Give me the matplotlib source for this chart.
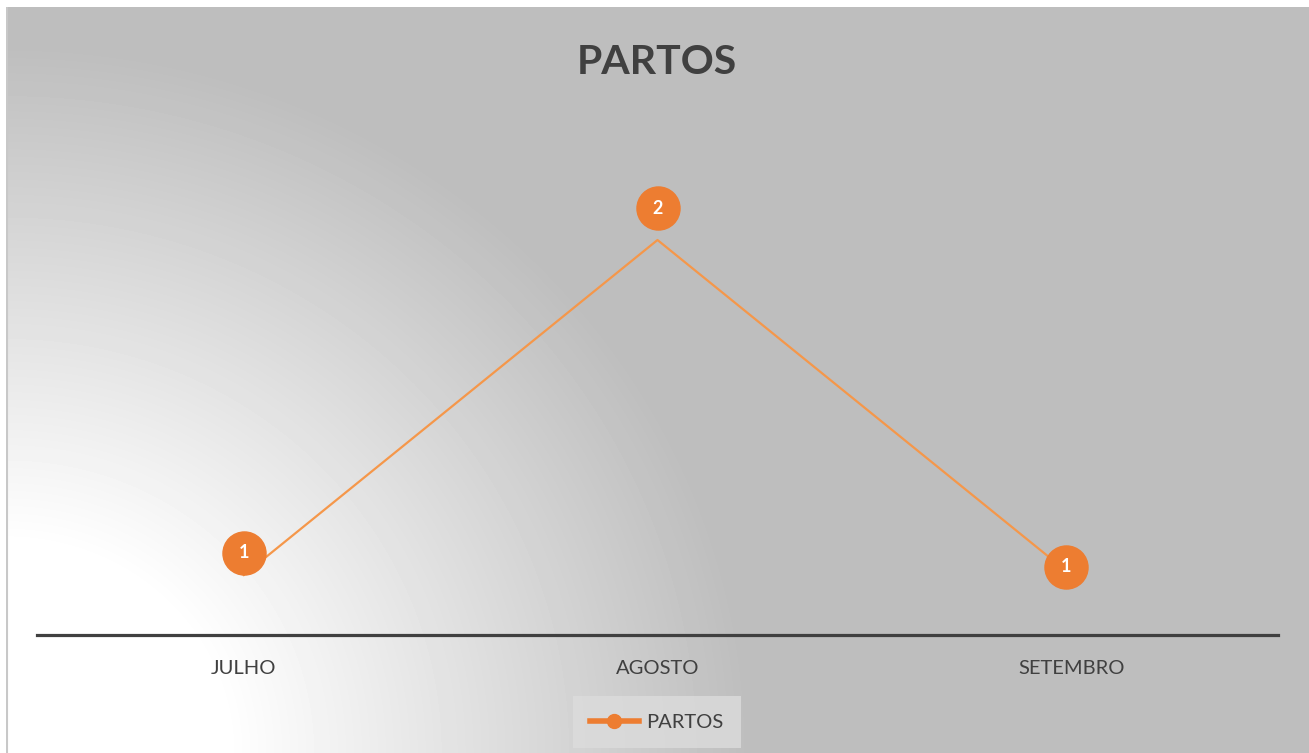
import numpy as np
import matplotlib
matplotlib.use("Agg")
import matplotlib.pyplot as plt
from matplotlib.transforms import offset_copy

# data
meses = ["JULHO", "AGOSTO", "SETEMBRO"]
partos = [1, 2, 1]

plt.rcParams['font.family'] = ['Lato', 'DejaVu Sans']

W, H = 1309, 753
fig = plt.figure(figsize=(W / 100, H / 100), dpi=100)
fig.patch.set_facecolor("white")

# gradient background (white at bottom-left fading to gray)
bg = fig.add_axes([6 / W, 0, (W - 6) / W, (H - 7) / H])
bh, bw = H - 7, W - 6
yy, xx = np.mgrid[0:bh, 0:bw]
d = np.hypot(xx * 1.0, (bh - yy) * 1.05)
t = np.clip((d - 220) / 520, 0, 1)
grey = 1 - t * (1 - 190 / 255)
bg.imshow(grey, cmap="gray", vmin=0, vmax=1, aspect="auto",
          extent=[0, 1, 0, 1], interpolation="bilinear")
bg.set_axis_off()
bg.plot([0.0008, 0.0008], [0, 1], color="#c8c8c8", lw=1.5, transform=bg.transAxes)

# main chart
ax = fig.add_axes([37 / W, (H - 635) / H, (1278 - 37) / W, (635 - 130) / H])
ax.set_facecolor("none")
x = np.arange(len(meses))
ax.plot(x, partos, color="#f5974a", lw=1.6)
ax.set_xlim(-0.5, len(meses) - 0.5)
# value 1 -> y 575, value 2 -> y 240 (pixels)
ax.set_ylim(1 - 60 / 335, 2 + 110 / 335)

for s in ["top", "left", "right"]:
    ax.spines[s].set_visible(False)
ax.spines["bottom"].set_color("#404040")
ax.spines["bottom"].set_linewidth(2.3)
ax.set_yticks([])
ax.set_xticks(x)
ax.set_xticklabels(meses, fontsize=14.5, color="#404040")
ax.tick_params(axis="x", length=0, pad=18)

# data labels as orange circles (offsets in points)
label_offsets = [(0, 16), (0, 23), (-4, 6)]
for xi, yi, (dx, dy) in zip(x, partos, label_offsets):
    tr = offset_copy(ax.transData, fig=fig, x=dx, y=dy, units="points")
    ax.plot([xi], [yi], marker="o", markersize=31, color="#ed7d31",
            transform=tr, zorder=4)
    ax.text(xi, yi, str(yi), transform=tr, ha="center", va="center",
            fontsize=13, fontweight="bold", color="white", zorder=5)

fig.text(657 / W, 1 - 62 / H, "PARTOS", ha="center", va="center",
         fontsize=29.5, fontweight="bold", color="#404040")

leg = ax.legend(handles=[plt.Line2D([], [], color="#ed7d31", lw=4, marker="o",
                                    markersize=10)],
                labels=["PARTOS"], loc="center", bbox_to_anchor=(657 / W, 1 - 722 / H),
                bbox_transform=fig.transFigure, frameon=True, fontsize=14.5,
                handlelength=2.4, borderpad=0.85, handletextpad=0.4)
leg.get_frame().set_facecolor("#dcdcdc")
leg.get_frame().set_edgecolor("none")
leg.get_frame().set_alpha(0.8)
leg.get_frame().set_boxstyle("square", pad=0)
for txt in leg.get_texts():
    txt.set_color("#404040")

fig.savefig("out.png", dpi=100)
